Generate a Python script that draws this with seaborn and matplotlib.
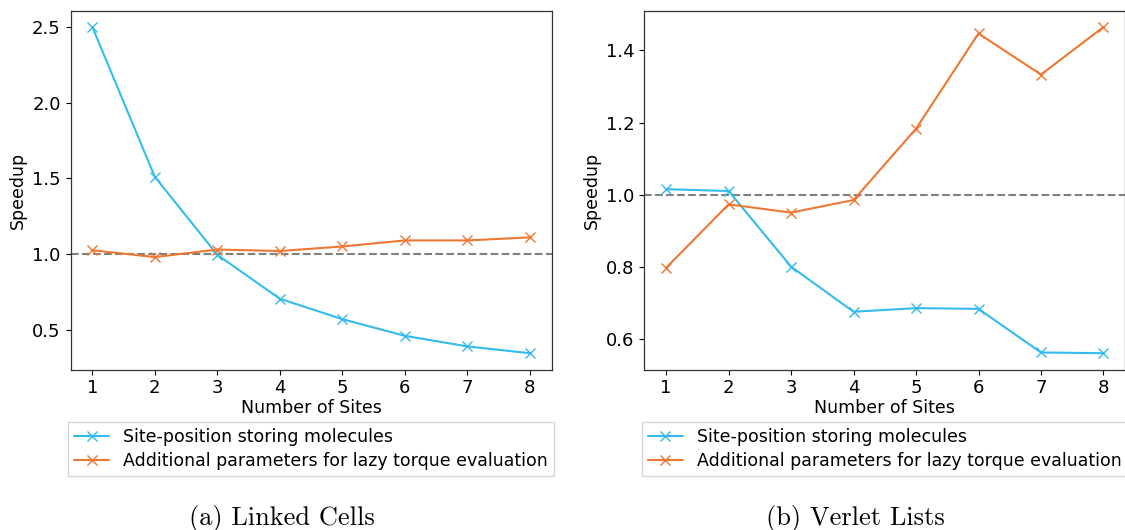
import matplotlib
matplotlib.use("Agg")
import matplotlib.pyplot as plt
import seaborn as sns
import pandas as pd

# Number of sites per molecule
sites = [1, 2, 3, 4, 5, 6, 7, 8]

# Speedup, Linked Cells
lc_site_positions = [2.50, 1.51, 0.995, 0.705, 0.57, 0.46, 0.39, 0.345]
lc_lazy_torque = [1.025, 0.98, 1.03, 1.02, 1.05, 1.09, 1.09, 1.11]

# Speedup, Verlet Lists
vl_site_positions = [1.015, 1.01, 0.80, 0.675, 0.685, 0.683, 0.562, 0.56]
vl_lazy_torque = [0.797, 0.973, 0.95, 0.985, 1.183, 1.447, 1.333, 1.465]

series_labels = ["Site-position storing molecules",
                 "Additional parameters for lazy torque evaluation"]
captions = ["(a) Linked Cells", "(b) Verlet Lists"]

colors = ["#33BBEE", "#EE7733"]

sns.set_style("ticks")
plt.rcParams["font.family"] = ["DejaVu Sans"]
plt.rcParams["text.color"] = "black"
plt.rcParams["axes.labelcolor"] = "black"

fig = plt.figure(figsize=(11.25, 5.3), dpi=100)
ax_w = 481 / 1125
ax_h = 358.8 / 530
ax_b = (530 - 369.5) / 530
axes = [fig.add_axes([70.5 / 1125, ax_b, ax_w, ax_h]),
        fig.add_axes([644.3 / 1125, ax_b, ax_w, ax_h])]

panels = [(lc_site_positions, lc_lazy_torque), (vl_site_positions, vl_lazy_torque)]

for ax, (blue_vals, orange_vals) in zip(axes, panels):
    for vals, col, lab in zip((blue_vals, orange_vals), colors, series_labels):
        df = pd.DataFrame({"sites": sites, "speedup": vals})
        sns.lineplot(data=df, x="sites", y="speedup", ax=ax, color=col,
                     marker="x", markersize=7, markeredgecolor=col,
                     markeredgewidth=1.0, linewidth=1.5, label=lab)
    ax.axhline(1.0, color="#808080", linestyle="--", linewidth=1.5, zorder=0)
    ax.set_xticks(sites)
    ax.set_xlabel("Number of Sites", fontsize=12.5, labelpad=1)
    ax.set_ylabel("Speedup", fontsize=12.5)
    ax.tick_params(labelsize=13, colors="black", width=0.8, length=3.5)
    for sp in ax.spines.values():
        sp.set_linewidth(0.9)
        sp.set_color("#333333")
    ax.legend(loc="upper center", bbox_to_anchor=(0.5, -0.145), borderaxespad=0,
              fontsize=12.5, frameon=True, fancybox=False, edgecolor="#cccccc",
              handlelength=2.0, borderpad=0.35, labelspacing=0.35)

fig.text(281.7 / 1125, (530 - 518) / 530, captions[0], family="cmr10",
         fontsize=19, ha="center", va="center")
fig.text(855.8 / 1125, (530 - 518) / 530, captions[1], family="cmr10",
         fontsize=19, ha="center", va="center")

fig.savefig("out.png", dpi=100)
